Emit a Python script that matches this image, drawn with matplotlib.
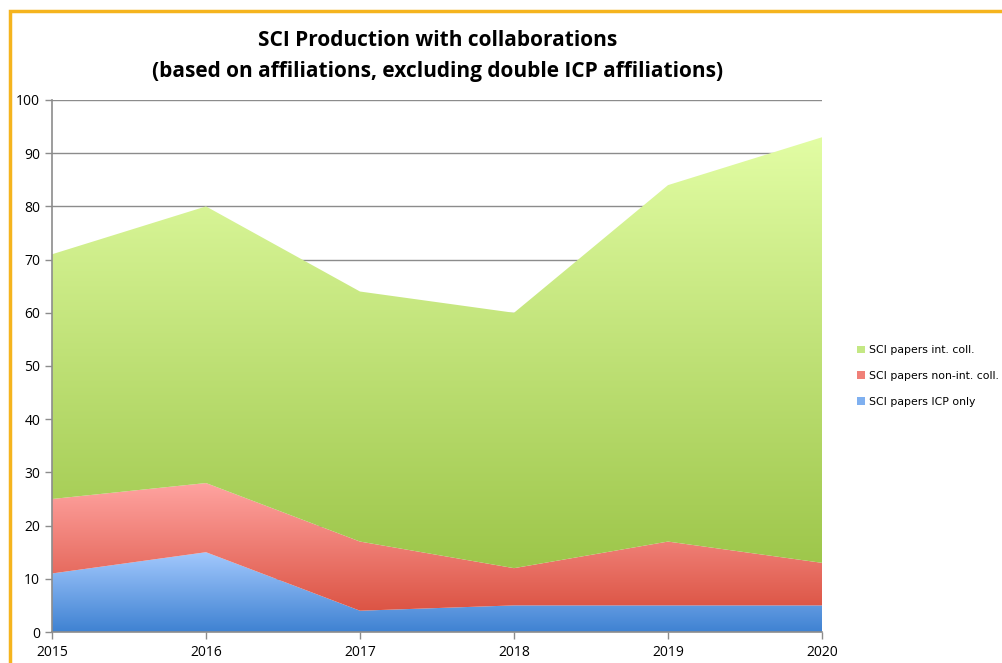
import matplotlib
matplotlib.use("Agg")
import matplotlib.pyplot as plt
import numpy as np
from matplotlib.colors import LinearSegmentedColormap
from matplotlib.patches import Patch, Rectangle

years = [2015, 2016, 2017, 2018, 2019, 2020]
icp_only = [11, 15, 4, 5, 5, 5]
non_int_coll = [14, 13, 13, 7, 12, 8]
int_coll = [46, 52, 47, 48, 67, 80]
series_names = ["SCI papers ICP only", "SCI papers non-int. coll.", "SCI papers int. coll."]
yticks = list(range(0, 101, 10))

W, H = 1002, 663
fig = plt.figure(figsize=(W / 100, H / 100), dpi=100)
ax = fig.add_axes([52 / W, (H - 632) / H, 770 / W, 532 / H])

grads = [
    ("#a2c8fd", "#3f82d2"),  # blue
    ("#ffa3a0", "#dc5444"),  # red
    ("#e2fda4", "#9dc64a"),  # green
]
legend_cols = ["#7fb0f0", "#f08078", "#c4e884"]

x = np.array(years, dtype=float)
base = np.zeros(len(years))
layers = [icp_only, non_int_coll, int_coll]
for vals, (ctop, cbot) in zip(layers, grads):
    top = base + np.array(vals, dtype=float)
    poly = ax.fill_between(x, base, top, facecolor="none", edgecolor="none", zorder=2)
    ymin, ymax = base.min(), top.max()
    cmap = LinearSegmentedColormap.from_list("g", [cbot, ctop])
    grad = np.linspace(0, 1, 256).reshape(-1, 1)
    im = ax.imshow(grad, cmap=cmap, aspect="auto", origin="lower",
                   extent=[x[0], x[-1], ymin, ymax], zorder=2, interpolation="bilinear")
    path = poly.get_paths()[0]
    im.set_clip_path(path, ax.transData)
    base = top

ax.set_xlim(2015, 2020)
ax.set_ylim(0, 100)
ax.set_yticks(yticks)
ax.set_xticks(years)
ax.set_xticklabels([str(y) for y in years])
ax.grid(axis="y", color="#8c8c8c", linewidth=1.0, zorder=1)
ax.set_axisbelow(True)
for s in ["top", "right"]:
    ax.spines[s].set_visible(False)
for s in ["left", "bottom"]:
    ax.spines[s].set_color("#8c8c8c")
    ax.spines[s].set_linewidth(1.2)
    ax.spines[s].set_zorder(3)
ax.tick_params(axis="both", colors="#8c8c8c", labelcolor="black", length=5, width=1.0, labelsize=10)
ax.tick_params(axis="x", pad=4)
for lab in ax.get_xticklabels() + ax.get_yticklabels():
    lab.set_fontfamily("Open Sans")

fig.text(438 / W, 1 - 40 / H, "SCI Production with collaborations", ha="center", va="center",
         fontsize=15, fontweight="bold", family="Open Sans")
fig.text(438 / W, 1 - 72 / H, "(based on affiliations, excluding double ICP affiliations)", ha="center", va="center",
         fontsize=15, fontweight="bold", family="Open Sans")

handles = [Patch(facecolor=legend_cols[i], edgecolor="none", label=series_names[i]) for i in [2, 1, 0]]
fig.legend(handles=handles, loc="center left", bbox_to_anchor=(857 / W, 1 - 376 / H), frameon=False,
           fontsize=7.8, handlelength=0.7, handleheight=0.7, handletextpad=0.4, labelspacing=1.45,
           borderaxespad=0, borderpad=0)

fig.patches.append(Rectangle((10 / W, -0.1), 1.2, 1 - 11 / H + 0.1, transform=fig.transFigure,
                             fill=False, edgecolor="#f5b41e", linewidth=2.5, zorder=0))

fig.savefig("out.png", dpi=100)
